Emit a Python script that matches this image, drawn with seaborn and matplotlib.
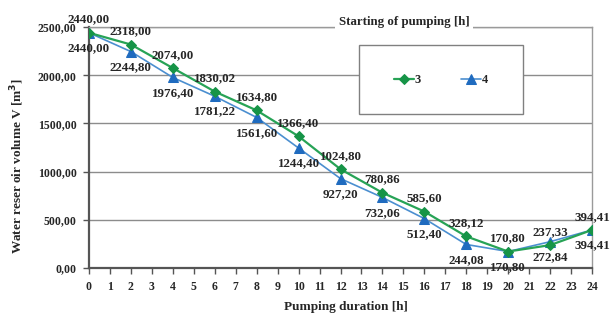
import pandas as pd
import matplotlib
matplotlib.use("Agg")
import matplotlib.pyplot as plt
from matplotlib.patches import Rectangle
import seaborn as sns

# pumping duration [h] and reservoir volume [m3] for two pumping start hours
hours = [0, 2, 4, 6, 8, 10, 12, 14, 16, 18, 20, 22, 24]
start_3 = [2440.00, 2318.00, 2074.00, 1830.02, 1634.80, 1366.40, 1024.80,
           780.86, 585.60, 328.12, 170.80, 237.33, 394.41]
start_4 = [2440.00, 2244.80, 1976.40, 1781.22, 1561.60, 1244.40, 927.20,
           732.06, 512.40, 244.08, 170.80, 272.84, 394.41]
series_names = ["3", "4"]
y_ticks = [0, 500, 1000, 1500, 2000, 2500]
x_ticks = list(range(0, 25))

df = pd.DataFrame({
    "hour": hours * 2,
    "volume": start_3 + start_4,
    "start": [series_names[0]] * len(hours) + [series_names[1]] * len(hours),
})

sns.set_style("white")
plt.rcParams["font.family"] = ["Liberation Serif", "DejaVu Serif"]
plt.rcParams["font.weight"] = "bold"

fig = plt.figure(figsize=(6.15, 3.21), dpi=100)
ax = fig.add_axes([89 / 615, 53 / 321, 503 / 615, 241 / 321])

green, green_m = "#27A356", "#169447"
blue, blue_m = "#4B8FD0", "#1F6BBF"

sns.lineplot(data=df[df.start == "3"], x="hour", y="volume", ax=ax, color=green,
             lw=1.6, marker="D", markersize=5, markerfacecolor=green_m,
             markeredgecolor=green_m, label="3", zorder=4)
sns.lineplot(data=df[df.start == "4"], x="hour", y="volume", ax=ax, color=blue,
             lw=1.2, marker="^", markersize=7, markerfacecolor=blue_m,
             markeredgecolor=blue_m, label="4", zorder=3)

ax.set_xlim(0, 24)
ax.set_ylim(0, 2500)
ax.set_xticks(x_ticks)
ax.set_xticklabels([str(t) for t in x_ticks], fontsize=8.5, fontweight="bold")
ax.set_yticks(y_ticks)
ax.set_yticklabels([f"{t:.2f}".replace(".", ",") for t in y_ticks],
                   fontsize=8.5, fontweight="bold")
ax.tick_params(axis="both", direction="out", length=4, width=1, color="#555555",
               pad=5, bottom=True, left=True)
ax.grid(axis="y", color="#8c8c8c", lw=1)
ax.grid(axis="x", visible=False)

for side in ["left", "bottom"]:
    ax.spines[side].set_color("#555555")
    ax.spines[side].set_linewidth(1.6)
for side in ["top", "right"]:
    ax.spines[side].set_color("#9a9a9a")
    ax.spines[side].set_linewidth(1)

# data labels: series 3 above, series 4 below
for x, v in zip(hours, start_3):
    ax.annotate(f"{v:.2f}".replace(".", ","), (x, v), xytext=(0, 9.5),
                textcoords="offset points", ha="center", va="center",
                fontsize=9.4, fontweight="bold", zorder=6)
for x, v in zip(hours, start_4):
    ax.annotate(f"{v:.2f}".replace(".", ","), (x, v), xytext=(0, -11),
                textcoords="offset points", ha="center", va="center",
                fontsize=9.4, fontweight="bold", zorder=6)

ax.set_xlabel("Pumping duration [h]", fontsize=9.5, fontweight="bold")
ax.set_ylabel("Water reser oir volume V [m$^\\mathbf{3}$]", fontsize=9.5,
              fontweight="bold")
ax.xaxis.set_label_coords(0.511, -0.135)
ax.yaxis.set_label_coords(-0.125, 0.425)

# legend box and title
ax.add_patch(Rectangle((359 / 615, 1 - 114 / 321), 164 / 615, 69 / 321,
                       transform=fig.transFigure, facecolor="white",
                       edgecolor="#808080", lw=1, zorder=2.5, clip_on=False))
handles, labels = ax.get_legend_handles_labels()
ax.legend(handles, labels, loc="center", bbox_to_anchor=(441 / 615, 1 - 80 / 321),
          bbox_transform=fig.transFigure, ncol=2, frameon=False,
          prop={"weight": "bold", "size": 9}, handlelength=1.6,
          handletextpad=0.1, columnspacing=3.2)
fig.text(404 / 615, 1 - 22 / 321, "Starting of pumping [h]", ha="center",
         va="center", fontsize=9.3, fontweight="bold",
         bbox=dict(facecolor="white", edgecolor="none", pad=2.5))

fig.savefig("out.png", dpi=100)
